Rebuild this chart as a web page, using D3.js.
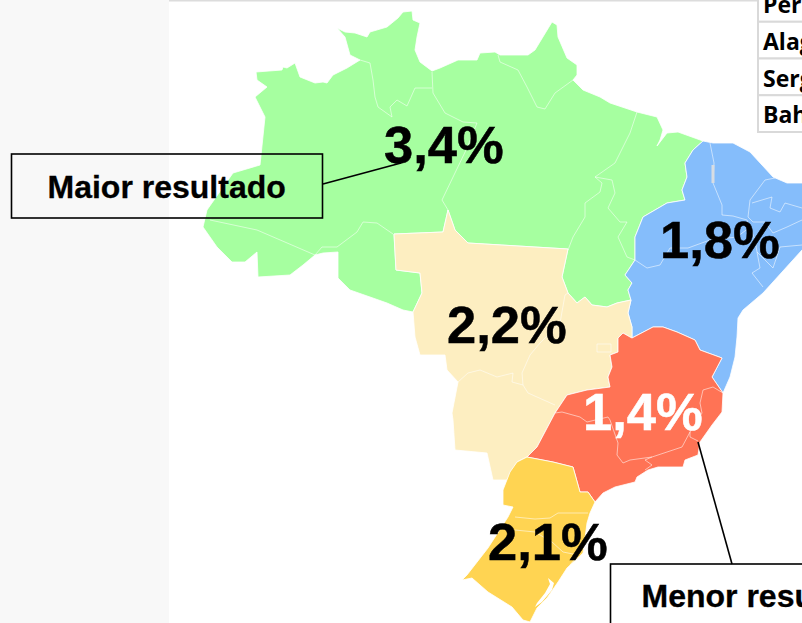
<!DOCTYPE html>
<html lang="pt">
<head>
<meta charset="utf-8">
<style>html,body{margin:0;padding:0;background:#fff;overflow:hidden}svg{display:block}</style>
<script src="https://cdn.jsdelivr.net/npm/d3@7"></script>
</head>
<body>
<script>
const regionNames = ["Norte", "Nordeste", "Centro-Oeste", "Sudeste", "Sul"];
const regionValues = [3.4, 1.8, 2.2, 1.4, 2.1];
const regionColors = ["#A6FFA0", "#85BDFB", "#FDEEC1", "#FF7355", "#FFD452"];
const tableRows = ["Pernambuco", "Alagoas", "Sergipe", "Bahia"];
const calloutTexts = ["Maior resultado", "Menor resultado"];

// Region outlines, in map units
const outlineNorte = [[56,72],[82,70],[83,67],[87,68],[95,63],[100,77],[115,83],[123,82],[127,83],[133,75],[147,68],[160,60],[150,55],[145,37],[137,28],[145,32],[155,33],[167,37],[170,32],[187,27],[198,18],[203,12],[212,11],[213,20],[220,23],[217,37],[215,50],[220,62],[232,71],[240,68],[258,60],[277,60],[280,53],[295,52],[300,55],[328,55],[335,50],[352,22],[357,25],[358,37],[367,58],[377,65],[377,75],[373,80],[383,90],[400,97],[410,103],[437,112],[457,117],[463,130],[460,140],[457,146],[467,133],[478,132],[503,141],[493,150],[485,163],[487,177],[482,190],[485,200],[467,203],[443,217],[435,237],[435,260],[425,275],[432,283],[428,290],[431,300],[417,303],[407,307],[392,305],[385,297],[377,303],[368,293],[362,277],[368,249],[268,243],[255,230],[248,210],[243,232],[194,234],[196,270],[220,273],[222,293],[213,312],[203,310],[187,303],[170,297],[150,290],[138,278],[138,252],[123,253],[115,255],[103,265],[90,275],[58,277],[57,252],[45,262],[32,262],[17,247],[3,227],[7,210],[33,173],[60,165],[65,117],[55,97],[67,87],[57,80]];
const outlineNordeste = [[503,141],[513,143],[533,143],[550,152],[573,177],[587,183],[602,183],[615,190],[620,215],[615,235],[602,250],[563,293],[543,310],[538,318],[537,337],[535,357],[530,377],[523,393],[512,377],[522,358],[500,350],[495,340],[477,332],[463,327],[453,327],[432,338],[432,327],[428,313],[431,300],[428,290],[432,283],[425,275],[435,260],[435,237],[443,217],[467,203],[485,200],[482,190],[487,177],[485,163],[493,150]];
const outlineCentroOeste = [[194,234],[243,232],[248,210],[255,230],[268,243],[368,249],[362,277],[368,293],[377,303],[385,297],[392,305],[407,307],[417,303],[431,300],[428,313],[432,327],[432,338],[430,337],[423,333],[418,338],[418,352],[410,355],[412,367],[408,377],[410,387],[387,390],[367,395],[355,413],[337,447],[327,457],[317,462],[307,480],[293,480],[287,453],[255,450],[253,420],[252,413],[258,382],[247,370],[245,355],[220,355],[215,337],[213,312],[222,293],[220,273],[196,270]];
const outlineSudeste = [[432,338],[453,327],[463,327],[477,332],[495,340],[500,350],[522,358],[512,377],[523,393],[522,412],[512,425],[500,442],[498,455],[485,460],[483,467],[468,467],[458,467],[448,470],[437,477],[435,482],[415,487],[403,493],[395,502],[388,492],[380,492],[373,467],[353,462],[327,457],[337,447],[355,413],[367,395],[387,390],[410,387],[408,377],[412,367],[410,355],[418,352],[418,338],[423,333],[430,337]];
const outlineSul = [[327,457],[353,462],[373,467],[380,492],[388,492],[395,502],[390,513],[387,523],[383,553],[367,568],[358,582],[347,598],[337,608],[333,616],[330,622],[323,620],[312,607],[288,592],[272,578],[262,580],[267,575],[288,548],[308,517],[313,507],[303,505],[303,490],[310,472],[317,462]];
const outlineLagoa = [[354,583],[348,578],[350,584],[345,593],[337,603],[335,607],[342,602],[352,590]];
const regionOutlines = [outlineNorte, outlineNordeste, outlineCentroOeste, outlineSudeste, outlineSul];

// State borders, in map units
const stateBorders = [
  [[160,60],[170,63],[173,80],[175,97],[178,107],[192,117]],
  [[192,117],[190,107],[197,100],[207,106],[215,88],[232,88]],
  [[232,72],[233,93],[245,113],[263,122],[277,123],[267,148],[242,200],[248,210]],
  [[10,220],[57,230],[115,255]],
  [[115,255],[122,247],[137,247],[157,232],[163,222],[177,223],[193,234]],
  [[298,55],[300,62],[318,70],[327,87],[337,107],[345,109],[355,93],[373,80]],
  [[437,112],[430,133],[415,163],[395,177],[412,180],[415,193],[408,208],[420,222],[427,222],[418,237],[427,257],[435,260]],
  [[395,177],[402,183],[400,192],[385,203],[385,217],[373,237],[368,250]],
  [[510,143],[514,163],[513,183],[522,205],[522,215],[533,216],[547,220],[550,227],[537,237],[510,240],[488,248],[470,248],[460,265],[447,268],[435,260]],
  [[575,178],[565,180],[550,200],[548,217],[553,222],[565,222],[573,233],[587,227],[602,220]],
  [[552,203],[572,197],[570,208],[580,212],[585,203],[602,208]],
  [[550,227],[555,240],[557,252],[573,268]],
  [[557,252],[560,268],[552,273],[563,287]],
  [[573,268],[580,247],[602,245]],
  [[397,344],[411,344],[411,352],[397,352],[397,344]],
  [[368,293],[365,295],[360,323],[340,343],[330,355],[322,373],[323,385],[328,393],[355,405]],
  [[258,382],[268,373],[280,370],[297,377],[313,373],[312,382],[323,385]],
  [[355,413],[362,412],[380,417],[387,422],[408,417],[410,420],[418,443],[417,455],[423,463],[430,460],[452,457],[482,447],[490,432]],
  [[523,393],[513,387],[503,390],[500,403],[502,413],[490,432],[490,437],[498,441]],
  [[452,457],[445,460],[452,465],[445,470]],
  [[315,517],[335,519],[350,518],[358,513],[388,513]],
  [[315,530],[335,532],[352,542],[363,552],[378,555],[370,565]]
];
const riverStretch = [[513,165],[513,183]];

const svg = d3.select("body").append("svg").attr("width", 802).attr("height", 623);
const xMap = d3.scaleLinear().domain([0, 602]).range([200, 802]);
const yMap = d3.scaleLinear().domain([0, 623]).range([0, 623]);
const linePath = d3.line().x(d => xMap(d[0])).y(d => yMap(d[1]));
const closed = pts => linePath(pts) + "Z";

// page background
svg.append("rect").attr("x", 0).attr("y", 0).attr("width", 169).attr("height", 623).attr("fill", "#f8f8f8");
svg.append("rect").attr("x", 169).attr("y", 0).attr("width", 590).attr("height", 1.5).attr("fill", "#dcdcdc");

// regions
svg.append("g").selectAll("path").data(regionOutlines).join("path")
  .attr("d", closed)
  .attr("fill", (d, i) => regionColors[i])
  .attr("stroke", "#fff").attr("stroke-width", 0.8).attr("stroke-linejoin", "round");
svg.append("path").attr("d", closed(outlineLagoa)).attr("fill", "#fff");
svg.append("g").selectAll("path").data(stateBorders).join("path")
  .attr("d", linePath).attr("fill", "none")
  .attr("stroke", "#fff").attr("stroke-opacity", 0.6).attr("stroke-width", 0.9);
svg.append("path").attr("d", linePath(riverStretch)).attr("fill", "none")
  .attr("stroke", "#d8dde2").attr("stroke-width", 3);

// clipped table at the top right
const rowTop = d3.scaleBand().domain(tableRows).range([-15, 132]);
const table = svg.append("g");
table.selectAll("rect").data(tableRows).join("rect")
  .attr("x", 758).attr("y", d => rowTop(d)).attr("width", 70).attr("height", rowTop.bandwidth())
  .attr("fill", "#fff").attr("stroke", "#d9d9d9").attr("stroke-width", 2);
table.selectAll("text").data(tableRows).join("text")
  .attr("x", 763).attr("y", d => rowTop(d) + 28)
  .attr("font-family", "'Open Sans', sans-serif").attr("font-weight", 700).attr("font-size", 23).attr("fill", "#000")
  .text(d => d);

// value labels
const labelPos = [[384, 163], [660, 258], [447, 343], [583, 430], [488, 560]];
const fmt = v => d3.format(".1f")(v).replace(".", ",") + "%";
svg.append("g").selectAll("text").data(regionValues).join("text")
  .attr("x", (d, i) => labelPos[i][0]).attr("y", (d, i) => labelPos[i][1])
  .attr("font-family", "'Liberation Sans', Arial, sans-serif").attr("font-weight", 700).attr("font-size", 52.5)
  .attr("fill", (d, i) => regionNames[i] === "Sudeste" ? "#fff" : "#000")
  .attr("stroke", (d, i) => regionNames[i] === "Sudeste" ? "#fff" : "#000").attr("stroke-width", 0.5)
  .text(fmt);

// callouts
const callouts = svg.append("g").attr("fill", "none").attr("stroke", "#000").attr("stroke-width", 1.6);
callouts.append("rect").attr("x", 11.5).attr("y", 154).attr("width", 311).attr("height", 64);
callouts.append("rect").attr("x", 610.5).attr("y", 564).attr("width", 311).attr("height", 64);
callouts.append("line").attr("x1", 323).attr("y1", 184).attr("x2", 401).attr("y2", 163);
callouts.append("line").attr("x1", 698).attr("y1", 442).attr("x2", 732).attr("y2", 564);
svg.append("g").selectAll("text").data(calloutTexts).join("text")
  .attr("x", (d, i) => i ? 641.5 : 47.5).attr("y", (d, i) => i ? 607 : 198)
  .attr("font-family", "'Liberation Sans', Arial, sans-serif").attr("font-weight", 700).attr("font-size", 32)
  .attr("fill", "#000").attr("stroke", "#000").attr("stroke-width", 0.3)
  .text(d => d);
</script>
</body>
</html>
